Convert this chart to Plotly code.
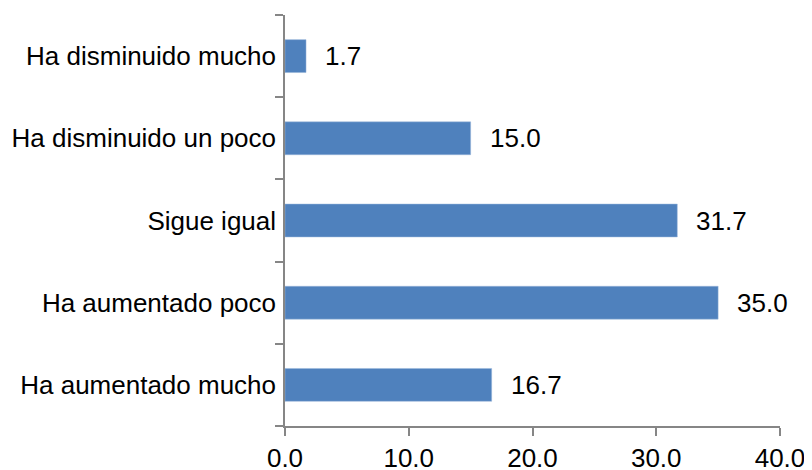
import plotly.graph_objects as go

categories = ["Ha aumentado mucho", "Ha aumentado poco", "Sigue igual",
              "Ha disminuido un poco", "Ha disminuido mucho"]
values = [16.7, 35.0, 31.7, 15.0, 1.7]
x_ticks = [0, 10, 20, 30, 40]
x_tick_labels = ["0.0", "10.0", "20.0", "30.0", "40.0"]

FONT = "Liberation Sans, Arial, sans-serif"
AXIS = "#868686"
FS = 26

fig = go.Figure()
fig.add_trace(go.Bar(
    x=values, y=categories, orientation="h",
    marker=dict(color="#4F81BD", line=dict(color="#9BB7DA", width=0.5)),
    hoverinfo="skip",
))

for c, v in zip(categories, values):
    fig.add_annotation(x=v, y=c, text=f"{v:.1f}", showarrow=False,
                       xanchor="left", yanchor="middle", xshift=17,
                       font=dict(family=FONT, size=FS, color="#000000"))

# page body has an 8px default margin; size the figure to fit the 812x470 window
fig.update_layout(
    width=804, height=462,
    margin=dict(l=277, r=32, t=7, b=44, autoexpand=False),
    paper_bgcolor="white", plot_bgcolor="white",
    bargap=0.6, showlegend=False,
    font=dict(family=FONT, size=FS, color="#000000"),
)
fig.update_xaxes(
    range=[0, 40], tickvals=x_ticks, ticktext=x_tick_labels, automargin=False,
    showgrid=False, zeroline=False, showline=True, linecolor=AXIS, linewidth=1.5,
    ticks="outside", ticklen=8, tickcolor=AXIS, tickwidth=1.5, ticklabelstandoff=0,
    tickfont=dict(family=FONT, size=FS, color="#000000"),
)
fig.update_yaxes(
    categoryorder="array", categoryarray=categories, automargin=False,
    showgrid=False, zeroline=False, showline=True, linecolor=AXIS, linewidth=1.5,
    ticks="outside", ticklen=8, tickcolor=AXIS, tickwidth=1.5, tickson="boundaries",
    ticklabelstandoff=2,
    tickfont=dict(family=FONT, size=FS, color="#000000"),
)

fig.write_html("out.html")
